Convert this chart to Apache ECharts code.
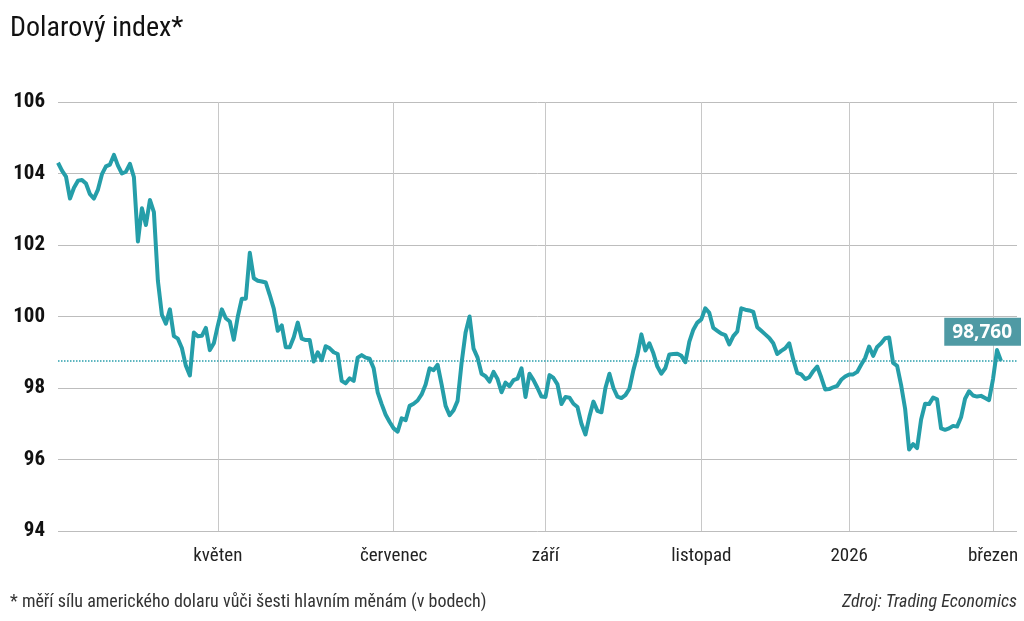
<!DOCTYPE html>
<html><head><meta charset="utf-8">
<script src="https://cdn.jsdelivr.net/npm/echarts@6/dist/echarts.min.js"></script>
<style>html,body{margin:0;padding:0;background:#fff}#c{width:1024px;height:621px}</style>
</head><body><div id="c"></div><script>
const dates = [
'2025-03-06','2025-03-07','2025-03-10','2025-03-11','2025-03-12','2025-03-13','2025-03-14','2025-03-17','2025-03-18','2025-03-19',
'2025-03-20','2025-03-21','2025-03-24','2025-03-25','2025-03-26','2025-03-27','2025-03-28','2025-03-31','2025-04-01','2025-04-02',
'2025-04-03','2025-04-04','2025-04-07','2025-04-08','2025-04-09','2025-04-10','2025-04-11','2025-04-14','2025-04-15','2025-04-16',
'2025-04-17','2025-04-18','2025-04-21','2025-04-22','2025-04-23','2025-04-24','2025-04-25','2025-04-28','2025-04-29','2025-04-30',
'2025-05-01','2025-05-02','2025-05-05','2025-05-06','2025-05-07','2025-05-08','2025-05-09','2025-05-12','2025-05-13','2025-05-14',
'2025-05-15','2025-05-16','2025-05-19','2025-05-20','2025-05-21','2025-05-22','2025-05-23','2025-05-26','2025-05-27','2025-05-28',
'2025-05-29','2025-05-30','2025-06-01','2025-06-02','2025-06-03','2025-06-04','2025-06-05','2025-06-06','2025-06-09','2025-06-10',
'2025-06-11','2025-06-12','2025-06-13','2025-06-16','2025-06-17','2025-06-18','2025-06-19','2025-06-20','2025-06-23','2025-06-24',
'2025-06-25','2025-06-26','2025-06-27','2025-06-30',
'2025-07-01','2025-07-02','2025-07-03','2025-07-07','2025-07-08','2025-07-09','2025-07-10','2025-07-11','2025-07-14','2025-07-15',
'2025-07-16','2025-07-17','2025-07-18','2025-07-21','2025-07-22','2025-07-23','2025-07-24','2025-07-25','2025-07-28','2025-07-29',
'2025-07-30','2025-07-31','2025-08-01','2025-08-04','2025-08-06','2025-08-08','2025-08-11','2025-08-13','2025-08-15','2025-08-18',
'2025-08-19','2025-08-20','2025-08-21','2025-08-22','2025-08-25','2025-08-26','2025-08-28','2025-08-29',
'2025-09-01','2025-09-02','2025-09-03','2025-09-04','2025-09-05','2025-09-08','2025-09-09','2025-09-10','2025-09-11','2025-09-12',
'2025-09-15','2025-09-16','2025-09-17','2025-09-18','2025-09-19','2025-09-22','2025-09-23','2025-09-24','2025-09-25','2025-09-26',
'2025-09-29','2025-09-30','2025-10-01','2025-10-02','2025-10-03','2025-10-06','2025-10-08','2025-10-10','2025-10-13','2025-10-14',
'2025-10-15','2025-10-16','2025-10-17','2025-10-20','2025-10-21','2025-10-23','2025-10-27','2025-10-29','2025-10-31',
'2025-11-03','2025-11-04','2025-11-05','2025-11-06','2025-11-07','2025-11-10','2025-11-11','2025-11-12','2025-11-13','2025-11-14',
'2025-11-17','2025-11-18','2025-11-19','2025-11-20','2025-11-21','2025-11-24','2025-11-25','2025-11-26','2025-11-27','2025-11-28',
'2025-12-01','2025-12-02','2025-12-04','2025-12-05','2025-12-08','2025-12-09','2025-12-11','2025-12-12','2025-12-15','2025-12-16',
'2025-12-17','2025-12-18','2025-12-19','2025-12-22','2025-12-23','2025-12-29','2025-12-30',
'2026-01-02','2026-01-05','2026-01-06','2026-01-07','2026-01-08','2026-01-09','2026-01-12','2026-01-13','2026-01-14','2026-01-15',
'2026-01-16','2026-01-19','2026-01-20','2026-01-21','2026-01-22','2026-01-23','2026-01-26','2026-01-27','2026-01-28','2026-01-29',
'2026-01-30','2026-02-02','2026-02-03','2026-02-04','2026-02-05','2026-02-06','2026-02-09','2026-02-10','2026-02-11','2026-02-12',
'2026-02-13','2026-02-17','2026-02-19','2026-02-23','2026-02-25','2026-02-27',
'2026-03-02','2026-03-03','2026-03-04','2026-03-05','2026-03-06','2026-03-09','2026-03-10'
];
const dxyValues = [
104.30,104.08,103.91,103.30,103.60,103.80,103.82,103.72,103.42,103.30,
103.55,103.98,104.20,104.25,104.52,104.22,104.00,104.05,104.27,103.90,
102.10,103.03,102.56,103.26,102.92,101.00,100.05,99.80,100.20,99.45,
99.38,99.12,98.62,98.35,99.55,99.45,99.46,99.68,99.06,99.25,
99.75,100.20,99.95,99.86,99.35,100.00,100.50,100.50,101.78,101.07,
101.00,100.98,100.95,100.60,100.22,99.60,99.75,99.14,99.14,99.42,
99.83,99.38,99.34,99.34,98.74,99.00,98.78,99.17,99.11,99.00,
98.95,98.20,98.13,98.27,98.20,98.85,98.92,98.85,98.82,98.55,
97.88,97.55,97.25,97.05,96.87,96.78,97.15,97.10,97.50,97.56,
97.65,97.82,98.10,98.55,98.50,98.65,98.10,97.50,97.24,97.38,
97.64,98.70,99.55,100.00,99.10,98.85,98.40,98.33,98.18,98.45,
98.25,97.88,98.15,98.05,98.22,98.26,98.55,97.75,98.40,98.22,
98.00,97.76,97.75,98.36,98.28,98.10,97.55,97.75,97.73,97.56,
97.47,97.00,96.70,97.20,97.62,97.36,97.32,98.00,98.40,98.00,
97.76,97.72,97.80,97.98,98.50,98.92,99.50,99.05,99.25,98.97,
98.60,98.40,98.56,98.94,98.95,98.96,98.90,98.72,99.30,99.63,
99.83,99.92,100.23,100.10,99.68,99.60,99.52,99.48,99.22,99.45,
99.58,100.23,100.19,100.17,100.13,99.70,99.60,99.50,99.40,99.25,
98.95,99.04,99.11,99.25,98.80,98.42,98.38,98.25,98.30,98.47,
98.60,98.30,97.96,97.97,98.02,98.06,98.23,98.32,98.38,98.38,
98.45,98.65,98.84,99.16,98.90,99.15,99.25,99.39,99.41,98.70,
98.62,98.08,97.42,96.28,96.43,96.32,97.12,97.56,97.55,97.73,
97.68,96.87,96.83,96.87,96.94,96.92,97.18,97.70,97.91,97.79,
97.76,97.78,97.72,97.66,98.25,99.06,98.76
];
const lastValue = 98.76;
const labeledMonths = ['05','07','09','11','01','03'];
const monthNames = {'05':'květen','07':'červenec','09':'září','11':'listopad','03':'březen'};
const titleText = 'Dolarový index*';
const noteText = '* měří sílu amerického dolaru vůči šesti hlavním měnám (v bodech)';
const sourceText = 'Zdroj: Trading Economics';

function isLabeled(i) {
  if (i === 0) return false;
  const m = dates[i].slice(5, 7), pm = dates[i - 1].slice(5, 7);
  return m !== pm && labeledMonths.indexOf(m) >= 0;
}
const FONT = "'Roboto Condensed', Roboto, sans-serif";
const chart = echarts.init(document.getElementById('c'), null, {renderer: 'canvas'});
chart.setOption({
  animation: false,
  backgroundColor: '#fff',
  title: [
    {text: titleText, left: 5, top: 10, textStyle: {fontFamily: FONT, fontSize: 28, fontWeight: 'normal', color: '#111'}},
    {text: noteText, left: 5, bottom: 5, textStyle: {fontFamily: FONT, fontSize: 18, fontWeight: 'normal', color: '#333'}},
    {text: sourceText, right: 2, bottom: 5, textStyle: {fontFamily: FONT, fontSize: 18, fontWeight: 'normal', fontStyle: 'italic', color: '#333'}}
  ],
  grid: {left: 58, right: 7, top: 102, bottom: 90, containLabel: false},
  xAxis: {
    type: 'category', data: dates, boundaryGap: false,
    axisLine: {show: false}, axisTick: {show: false},
    axisLabel: {
      interval: (i) => isLabeled(i),
      formatter: (v) => { const m = v.slice(5, 7); return m === '01' ? v.slice(0, 4) : monthNames[m]; },
      fontFamily: FONT, fontSize: 19, color: '#222', margin: 16
    },
    splitLine: {show: true, interval: (i) => isLabeled(i), lineStyle: {color: '#c8c8c8', width: 1}}
  },
  yAxis: {
    type: 'value', min: 94, max: 106, interval: 2,
    axisLine: {show: false}, axisTick: {show: false},
    axisLabel: {fontFamily: FONT, fontSize: 21, fontWeight: 'bold', color: '#111', margin: 13},
    splitLine: {lineStyle: {color: '#bdbdbd', width: 1}}
  },
  series: [{
    type: 'line', data: dxyValues, showSymbol: false, smooth: false,
    lineStyle: {color: '#259ea9', width: 4, join: 'round'},
    itemStyle: {color: '#259ea9'},
    markLine: {
      silent: true, symbol: 'none',
      data: [{yAxis: lastValue}],
      lineStyle: {type: 'dotted', color: '#2a9fac', width: 1.5},
      label: {
        show: true, position: 'insideEndTop',
        formatter: lastValue.toFixed(3).replace('.', ','),
        backgroundColor: '#4f9aa4', color: '#fff',
        fontFamily: "'Open Sans', sans-serif", fontWeight: 'bold', fontSize: 19,
        padding: [5, 9, 4, 8], distance: [-4, 15]
      }
    }
  }]
});
</script></body></html>
